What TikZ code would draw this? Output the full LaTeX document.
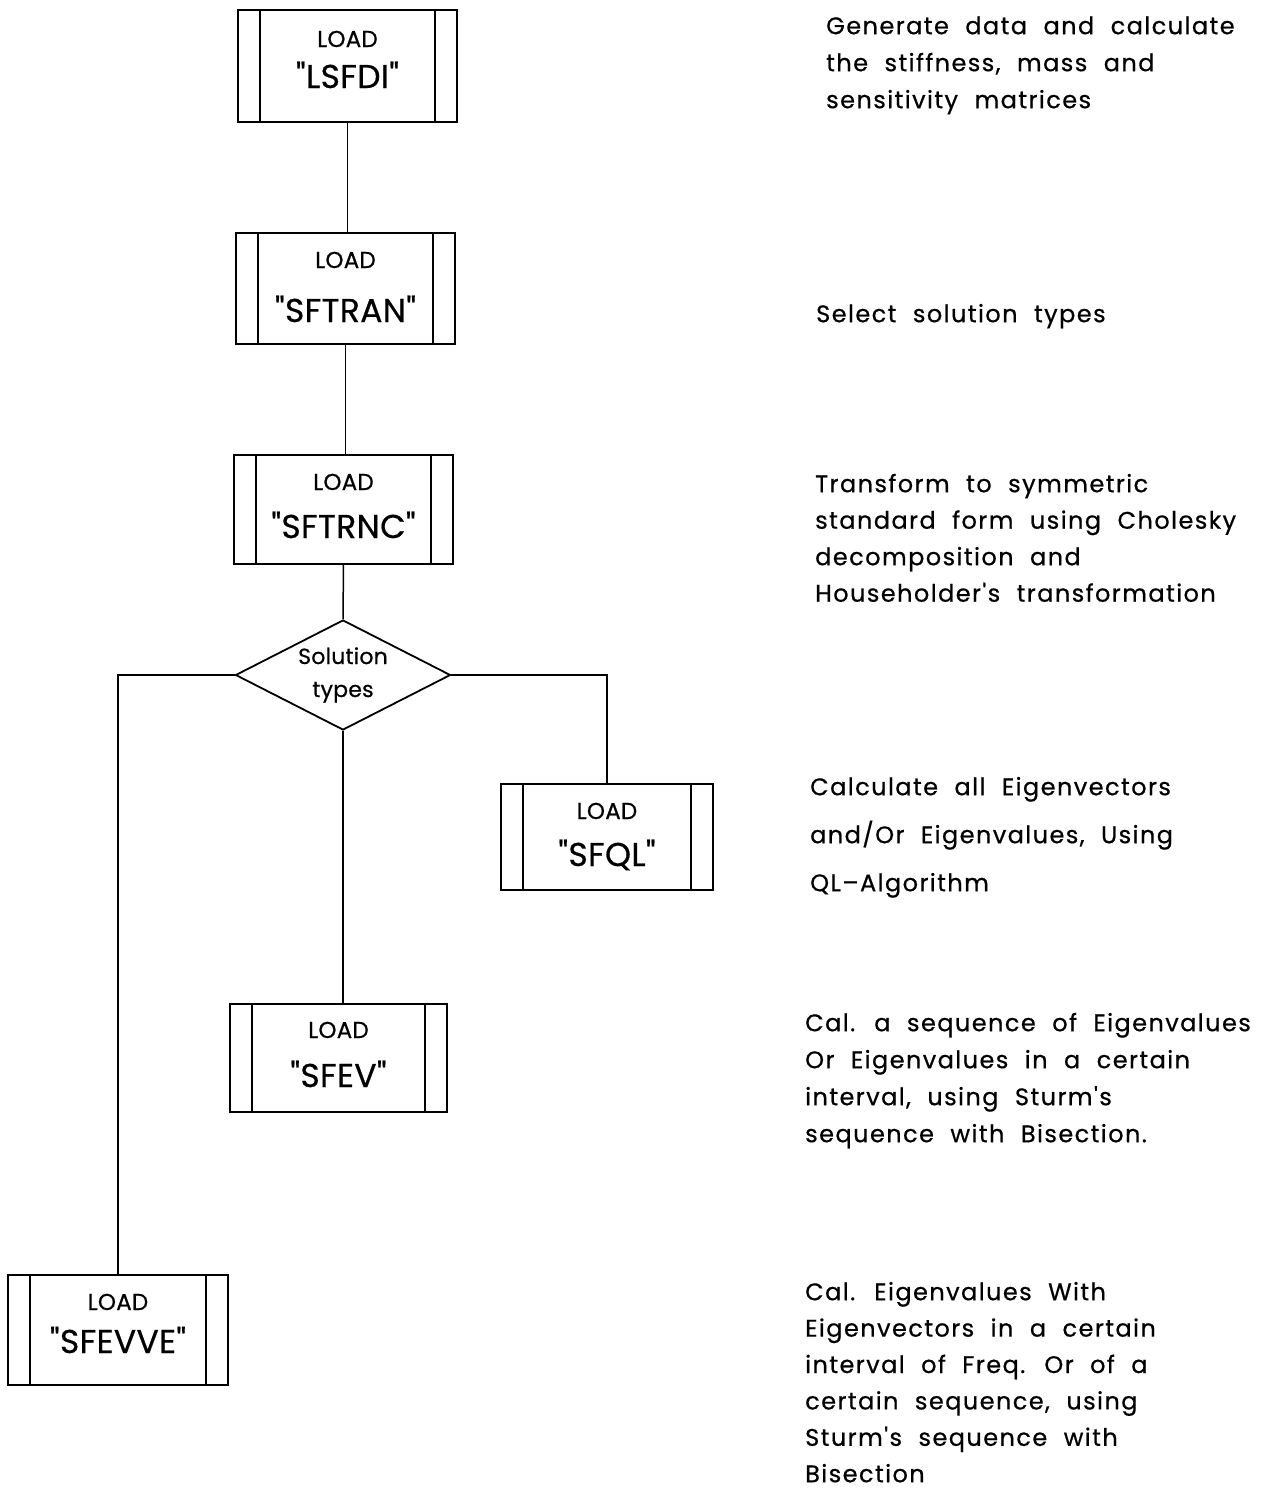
\documentclass[tikz,border=0pt]{standalone}
\usepackage{fontspec}
\usetikzlibrary{shapes.geometric}
\newfontfamily\cad{Poppins}[LetterSpace=6.0,WordSpace=2.1,FakeBold=0.6]
\newfontfamily\cadbox{Poppins}[LetterSpace=1.0,FakeBold=0.6]
\newcommand\firstline{\rule{0pt}{22pt}}
\tikzset{
  x=1pt, y=-1pt,
  procbox/.style={draw, line width=2pt, inner sep=0pt, outer sep=0pt, anchor=north west,
    path picture={
      \draw[line width=1.6pt] ([xshift=22pt]path picture bounding box.north west) -- ([xshift=22pt]path picture bounding box.south west);
      \draw[line width=1.6pt] ([xshift=-22pt]path picture bounding box.north east) -- ([xshift=-22pt]path picture bounding box.south east);
    }},
  loadtxt/.style={anchor=base, inner sep=0pt, font=\cadbox\fontsize{23}{28}\selectfont},
  nametxt/.style={anchor=base, inner sep=0pt, font=\cadbox\fontsize{33}{36}\selectfont},
  conn/.style={line width=1.5pt},
  decision/.style={draw, diamond, aspect=2, line width=1.8pt, inner sep=0pt,
    minimum width=215pt, minimum height=110pt, align=center,
    font=\cadbox\fontsize{22}{33}\selectfont},
  note/.style={anchor=north west, inner sep=0pt, align=left},
}
\begin{document}
\begin{tikzpicture}
\useasboundingbox (0,0) rectangle (1284,1491);

% program modules
\node[procbox, minimum width=219pt, minimum height=112pt] (lsfdi) at (238,10) {};
\node[loadtxt] (lsfdiA) at ([yshift=-37pt]lsfdi.north) {LOAD};
\node[nametxt] (lsfdiB) at ([yshift=-78pt]lsfdi.north) {"LSFDI"};

\node[procbox, minimum width=219pt, minimum height=111pt] (sftran) at (236,233) {};
\node[loadtxt] (sftranA) at ([yshift=-35pt]sftran.north) {LOAD};
\node[nametxt] (sftranB) at ([yshift=-89pt]sftran.north) {"SFTRAN"};

\node[procbox, minimum width=219pt, minimum height=109pt] (sftrnc) at (234,455) {};
\node[loadtxt] (sftrncA) at ([yshift=-35pt]sftrnc.north) {LOAD};
\node[nametxt] (sftrncB) at ([yshift=-83pt]sftrnc.north) {"SFTRNC"};

\node[decision] (soltype) at (343,675) {Solution\\types};

\node[procbox, minimum width=212pt, minimum height=106pt] (sfql) at (501,784) {};
\node[loadtxt] (sfqlA) at ([yshift=-35pt]sfql.north) {LOAD};
\node[nametxt] (sfqlB) at ([yshift=-82pt]sfql.north) {"SFQL"};

\node[procbox, minimum width=217pt, minimum height=108pt] (sfev) at (230,1004) {};
\node[loadtxt] (sfevA) at ([yshift=-34pt]sfev.north) {LOAD};
\node[nametxt] (sfevB) at ([yshift=-83pt]sfev.north) {"SFEV"};

\node[procbox, minimum width=220pt, minimum height=110pt] (sfevve) at (8,1275) {};
\node[loadtxt] (sfevveA) at ([yshift=-35pt]sfevve.north) {LOAD};
\node[nametxt] (sfevveB) at ([yshift=-78pt]sfevve.north) {"SFEVVE"};

% connectors
\draw[conn] (lsfdi.south) -- (lsfdi.south |- sftran.north);
\draw[conn] (sftran.south) -- (sftran.south |- sftrnc.north);
\draw[conn] (sftrnc.south) -- (soltype.north);
\draw[conn] (soltype.west) -| (sfevve.north);
\draw[conn] (soltype.east) -| (sfql.north);
\draw[conn] (soltype.south) -- (soltype.south |- sfev.north);

% descriptions
\node[note, font=\cad\fontsize{24}{37}\selectfont] (d1) at (826,12)
  {\firstline Generate data and calculate\\the stiffness, mass and\\sensitivity matrices};
\node[note, font=\cad\fontsize{24}{37}\selectfont] (d2) at (816,300)
  {\firstline Select solution types};
\node[note, font=\cad\fontsize{24}{36.5}\selectfont] (d3) at (815,470)
  {\firstline Transform to symmetric\\standard form using Cholesky\\decomposition and\\Householder's transformation};
\node[note, font=\cad\fontsize{24}{48}\selectfont] (d4) at (810,773)
  {\firstline Calculate all Eigenvectors\\and/Or Eigenvalues, Using\\QL–Algorithm};
\node[note, font=\cad\fontsize{24}{37}\selectfont] (d5) at (805,1009)
  {\firstline Cal. a sequence of Eigenvalues\\Or Eigenvalues in a certain\\interval, using Sturm's\\sequence with Bisection.};
\node[note, font=\cad\fontsize{24}{36.4}\selectfont] (d6) at (805,1278)
  {\firstline Cal. Eigenvalues With\\Eigenvectors in a certain\\interval of Freq. Or of a\\certain sequence, using\\Sturm's sequence with\\Bisection};
\end{tikzpicture}
\end{document}
